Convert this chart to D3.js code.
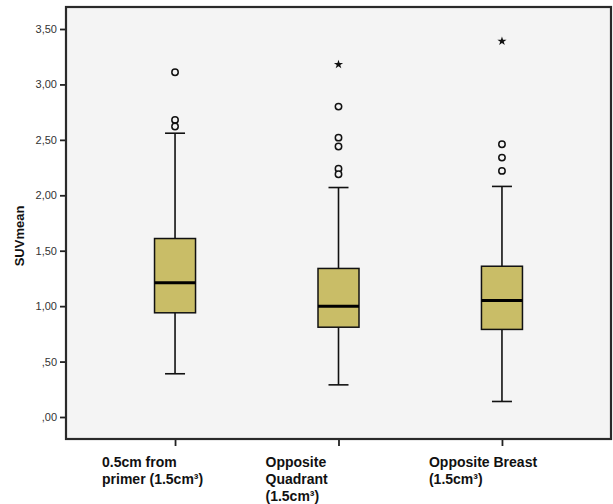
<!DOCTYPE html>
<html>
<head>
<meta charset="utf-8">
<script src="https://cdn.jsdelivr.net/npm/d3@7"></script>
<style>
  body { margin: 0; background: #fff; }
  svg { display: block; font-family: "Liberation Sans", Arial, sans-serif; }
</style>
</head>
<body>
<svg id="chart" width="613" height="504"></svg>
<script>
// values
const categories = ['near', 'quadrant', 'breast'];
const categoryLines = [
  ['0.5cm from', 'primer (1.5cm³)'],
  ['Opposite', 'Quadrant', '(1.5cm³)'],
  ['Opposite Breast', '(1.5cm³)']
];
const whiskerLow = [0.39, 0.29, 0.14];
const q1 = [0.94, 0.81, 0.79];
const medians = [1.21, 1.00, 1.05];
const q3 = [1.61, 1.34, 1.36];
const whiskerHigh = [2.56, 2.07, 2.08];
const outliers = [
  [3.11, 2.68, 2.62],
  [2.80, 2.52, 2.44, 2.24, 2.19],
  [2.46, 2.34, 2.22]
];
const extremes = [[], [3.18], [3.39]];
const yTicks = [0, 0.5, 1, 1.5, 2, 2.5, 3, 3.5];

const svg = d3.select('#chart');
const frame = { left: 66, right: 611, top: 7, bottom: 439 };

const x = d3.scalePoint()
  .domain(categories)
  .range([frame.left, frame.right])
  .padding(0.667);

const y = d3.scaleLinear()
  .domain([0, 3.5])
  .range([417, 29]);

const boxWidth = 41;
const capWidth = 20;
const fill = '#c9bd67';

// plot background
svg.append('rect')
  .attr('x', frame.left)
  .attr('y', frame.top)
  .attr('width', frame.right - frame.left)
  .attr('height', frame.bottom - frame.top)
  .attr('fill', '#f4f4f4');

// y axis
const fmt = v => d3.format('.2f')(v).replace('.', ',').replace(/^0/, '');
const yAxis = svg.append('g')
  .attr('transform', `translate(${frame.left},0)`)
  .call(d3.axisLeft(y).tickValues(yTicks).tickFormat(fmt).tickSize(6).tickPadding(3));
yAxis.select('.domain').remove();
yAxis.selectAll('line').attr('stroke', '#222').attr('stroke-width', 1.8);
yAxis.selectAll('text')
  .attr('fill', '#333')
  .style('font-size', '11px');

svg.append('text')
  .attr('transform', 'translate(24,236) rotate(-90)')
  .attr('text-anchor', 'middle')
  .style('font-size', '13px')
  .style('font-weight', 'bold')
  .attr('fill', '#111')
  .text('SUVmean');

// x axis ticks
const xAxis = svg.append('g')
  .attr('transform', `translate(0,${frame.bottom})`)
  .call(d3.axisBottom(x).tickSize(7).tickFormat(''));
xAxis.select('.domain').remove();
xAxis.selectAll('line').attr('stroke', '#222').attr('stroke-width', 1.8);

// category labels
categories.forEach((c, i) => {
  const t = svg.append('text')
    .attr('x', x(c) - 73)
    .attr('y', 467)
    .style('font-size', '14px')
    .style('font-weight', 'bold')
    .attr('fill', '#111');
  categoryLines[i].forEach((line, j) => {
    t.append('tspan')
      .attr('x', x(c) - 73)
      .attr('dy', j === 0 ? 0 : 17)
      .text(line);
  });
});

// boxes
const groups = svg.selectAll('.box')
  .data(categories)
  .join('g')
  .attr('class', 'box');

groups.append('line')
  .attr('x1', d => x(d)).attr('x2', d => x(d))
  .attr('y1', (d, i) => y(whiskerLow[i]))
  .attr('y2', (d, i) => y(q1[i]))
  .attr('stroke', '#111').attr('stroke-width', 1.6);

groups.append('line')
  .attr('x1', d => x(d)).attr('x2', d => x(d))
  .attr('y1', (d, i) => y(q3[i]))
  .attr('y2', (d, i) => y(whiskerHigh[i]))
  .attr('stroke', '#111').attr('stroke-width', 1.6);

[whiskerLow, whiskerHigh].forEach(arr => {
  groups.append('line')
    .attr('x1', d => x(d) - capWidth / 2)
    .attr('x2', d => x(d) + capWidth / 2)
    .attr('y1', (d, i) => y(arr[i]))
    .attr('y2', (d, i) => y(arr[i]))
    .attr('stroke', '#111').attr('stroke-width', 1.6);
});

groups.append('rect')
  .attr('x', d => x(d) - boxWidth / 2)
  .attr('y', (d, i) => y(q3[i]))
  .attr('width', boxWidth)
  .attr('height', (d, i) => y(q1[i]) - y(q3[i]))
  .attr('fill', fill)
  .attr('stroke', '#111')
  .attr('stroke-width', 1.5);

groups.append('line')
  .attr('x1', d => x(d) - boxWidth / 2)
  .attr('x2', d => x(d) + boxWidth / 2)
  .attr('y1', (d, i) => y(medians[i]))
  .attr('y2', (d, i) => y(medians[i]))
  .attr('stroke', '#000').attr('stroke-width', 3);

// outliers
categories.forEach((c, i) => {
  svg.selectAll(null)
    .data(outliers[i])
    .join('circle')
    .attr('cx', x(c))
    .attr('cy', d => y(d))
    .attr('r', 3.2)
    .attr('fill', '#f4f4f4')
    .attr('stroke', '#111')
    .attr('stroke-width', 1.5);

  svg.selectAll(null)
    .data(extremes[i])
    .join('path')
    .attr('transform', d => `translate(${x(c)},${y(d)})`)
    .attr('d', d3.symbol(d3.symbolStar, 26))
    .attr('fill', '#111');
});

// frame
svg.append('rect')
  .attr('x', frame.left)
  .attr('y', frame.top)
  .attr('width', frame.right - frame.left)
  .attr('height', frame.bottom - frame.top)
  .attr('fill', 'none')
  .attr('stroke', '#2a2a2a')
  .attr('stroke-width', 2.2);
</script>
</body>
</html>
